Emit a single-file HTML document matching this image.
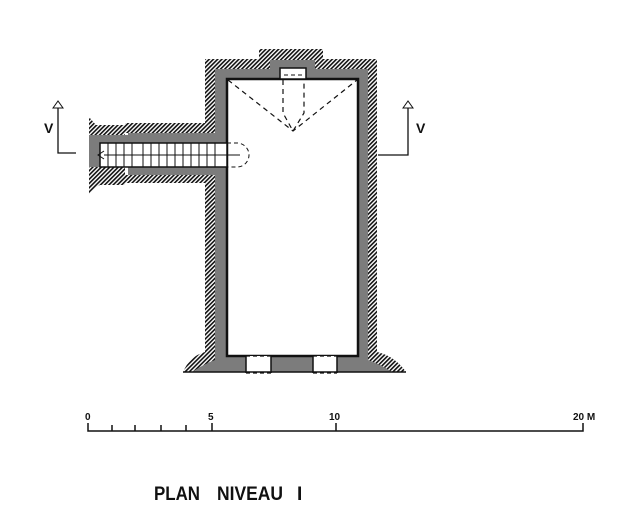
<!DOCTYPE html>
<html><head><meta charset="utf-8"><style>
html,body{margin:0;padding:0;background:#fff;}
svg{display:block;}
text{font-family:"Liberation Sans",sans-serif;font-weight:bold;fill:#111;}
</style></head><body>
<svg width="644" height="512" viewBox="0 0 644 512" xmlns="http://www.w3.org/2000/svg">
<defs>
<pattern id="h" width="3" height="3" patternUnits="userSpaceOnUse" patternTransform="rotate(45)">
<rect width="3" height="3" fill="#fff"/><rect width="1.6" height="3" fill="#111"/>
</pattern>
</defs>
<path d="M205 59 H259 V49 H323 V59 H377 V352 Q395 356 406 372 H183 Q190 356 205 352 V183 H125 V175 H205 V133 H125 V123 H205 Z" fill="url(#h)"/>
<path d="M89 117 L96 125 H125 V135 H89 Z" fill="url(#h)"/>
<path d="M89 167 H125 V185 H100 Q94 188 89 194 Z" fill="url(#h)"/>
<path d="M215 69 H270 V60 H315 V69 H368 V360 Q380 364 392 372 H192 Q204 364 215 360 V175 H128 V133 H215 Z" fill="#7c7c7c"/>
<rect x="89" y="135" width="39" height="32" fill="#7c7c7c"/>
<rect x="227" y="79" width="131" height="277" fill="#fff" stroke="#111" stroke-width="2.5"/>
<rect x="246" y="356" width="25" height="17" fill="#fff"/>
<rect x="313" y="356" width="24" height="17" fill="#fff"/>
<path d="M246 356 H271 M313 356 H337 M246 373 H271 M313 373 H337" stroke="#111" stroke-width="1.2" stroke-dasharray="4,3"/>
<path d="M271 356 V373 M313 356 V373 M246 356 V373 M337 356 V373" stroke="#111" stroke-width="1.5"/>
<line x1="183" y1="372" x2="406" y2="372" stroke="#111" stroke-width="1.5"/>
<rect x="280" y="68" width="26" height="11" fill="#fff" stroke="#111" stroke-width="1.5"/>
<path d="M284 75 H303" stroke="#111" stroke-dasharray="4,3"/>
<path d="M228 80 L293 131 L357 80 M283 80 V113 L293 131 L304 113 V80" fill="none" stroke="#111" stroke-width="1.2" stroke-dasharray="5,4"/>
<rect x="100" y="143" width="127" height="24" fill="#fff" stroke="#111" stroke-width="1.5"/>
<path d="M108 143 V167 M116 143 V167 M124 143 V167 M132 143 V167 M143 143 V167 M151 143 V167 M159 143 V167 M167 143 V167 M175 143 V167 M183 143 V167 M191 143 V167 M199 143 V167 M207 143 V167 M215 143 V167" stroke="#111" stroke-width="1"/>
<path d="M227 143 H237 A12 12 0 0 1 237 167 H227" fill="none" stroke="#111" stroke-dasharray="4,3"/>
<line x1="104" y1="155" x2="240" y2="155" stroke="#111" stroke-width="1"/>
<path d="M104 151 L98 155 L104 159" fill="none" stroke="#111"/>
<path d="M76 153 H58 V108" fill="none" stroke="#111" stroke-width="1.3"/>
<path d="M53 108 L58 101 L63 108 Z" fill="#fff" stroke="#111"/>
<text x="44" y="133" font-size="14">V</text>
<path d="M378 155 H408 V108" fill="none" stroke="#111" stroke-width="1.3"/>
<path d="M403 108 L408 101 L413 108 Z" fill="#fff" stroke="#111"/>
<text x="416" y="133" font-size="14">V</text>
<path d="M88 423 V431 H583 V423 M112 425 V431 M135 425 V431 M161 425 V431 M186 425 V431 M212 423 V431 M336 423 V431" fill="none" stroke="#111" stroke-width="1.5"/>
<text x="85" y="420" font-size="10">0</text>
<text x="208" y="420" font-size="10">5</text>
<text x="329" y="420" font-size="10">10</text>
<text x="573" y="420" font-size="10">20 M</text>
<text x="154" y="500" font-size="19" textLength="46" lengthAdjust="spacingAndGlyphs">PLAN</text>
<text x="217" y="500" font-size="19" textLength="66" lengthAdjust="spacingAndGlyphs">NIVEAU</text>
<text x="297" y="500" font-size="19">I</text>
</svg>
</body></html>
